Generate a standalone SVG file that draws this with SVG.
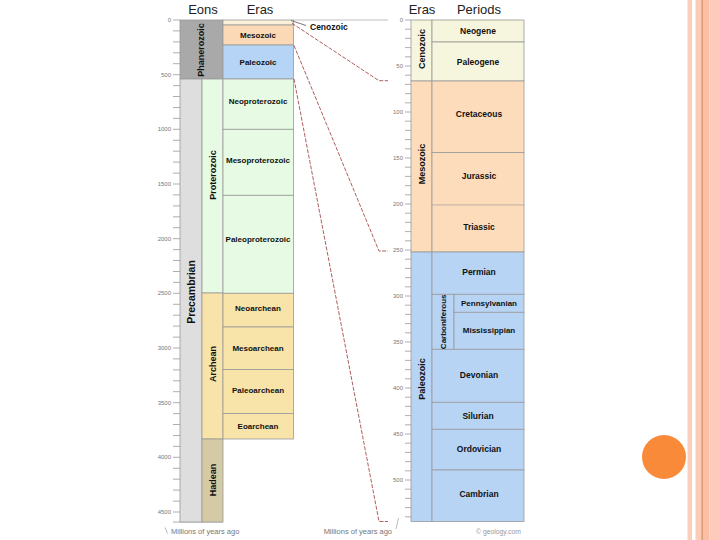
<svg xmlns="http://www.w3.org/2000/svg" width="720" height="540" viewBox="0 0 720 540">
<style>
text{font-family:"Liberation Sans",Arial,sans-serif;}
.hd{font-size:13px;fill:#222;text-anchor:middle;}
.lb{font-size:8px;font-weight:bold;fill:#111;text-anchor:middle;}
.lr{font-size:8.5px;font-weight:bold;fill:#111;text-anchor:middle;}
.vl{font-size:9px;font-weight:bold;fill:#111;text-anchor:middle;dominant-baseline:central;}
.ax{font-size:6px;fill:#777;text-anchor:end;dominant-baseline:central;}
.ft{font-size:7.5px;fill:#777;}
.bx{stroke:#9a9a9a;stroke-width:0.8;}
.tk{stroke:#9a9a9a;stroke-width:0.8;fill:none;}
.rd{stroke:#9b3535;stroke-width:0.8;stroke-dasharray:4 1.5;fill:none;}
</style>
<rect x="0" y="0" width="720" height="540" fill="#ffffff"/>
<g id="decoration">
<rect x="687.5" y="0" width="4.5" height="540" fill="#f9cfbc"/>
<rect x="695.5" y="0" width="6.5" height="540" fill="#fbcdb8"/>
<rect x="703" y="0" width="6.5" height="540" fill="#fcbea4"/>
<rect x="709.5" y="0" width="10.5" height="540" fill="#fdcabb"/>
<rect x="701.6" y="0" width="1.2" height="540" fill="#d48658"/>
<circle cx="664" cy="457" r="22" fill="#f98a3a"/>
</g>
<g id="headers">
<text class="hd" x="203" y="14">Eons</text>
<text class="hd" x="260" y="14">Eras</text>
<text class="hd" x="422" y="14">Eras</text>
<text class="hd" x="479" y="14">Periods</text>
</g>
<g id="left-axis">
<path class="tk" d="M173 20H180M173 30.9H180M173 41.9H180M173 52.8H180M173 63.7H180M173 74.7H180M173 85.6H180M173 96.5H180M173 107.5H180M173 118.4H180M173 129.3H180M173 140.3H180M173 151.2H180M173 162.1H180M173 173.1H180M173 184H180M173 194.9H180M173 205.9H180M173 216.8H180M173 227.7H180M173 238.7H180M173 249.6H180M173 260.5H180M173 271.5H180M173 282.4H180M173 293.3H180M173 304.3H180M173 315.2H180M173 326.1H180M173 337.1H180M173 348H180M173 358.9H180M173 369.9H180M173 380.8H180M173 391.7H180M173 402.7H180M173 413.6H180M173 424.5H180M173 435.5H180M173 446.4H180M173 457.3H180M173 468.3H180M173 479.2H180M173 490.1H180M173 501.1H180M173 512H180M173 522H223"/>
<text class="ax" x="171" y="20">0</text>
<text class="ax" x="171" y="74.7">500</text>
<text class="ax" x="171" y="129.3">1000</text>
<text class="ax" x="171" y="184">1500</text>
<text class="ax" x="171" y="238.7">2000</text>
<text class="ax" x="171" y="293.3">2500</text>
<text class="ax" x="171" y="348">3000</text>
<text class="ax" x="171" y="402.7">3500</text>
<text class="ax" x="171" y="457.3">4000</text>
<text class="ax" x="171" y="512">4500</text>
<path d="M165 527.5L167.5 533.5" stroke="#aaa" stroke-width="0.8"/>
<text class="ft" x="171" y="533.5">Millions of years ago</text>
</g>
<g id="eon-phanerozoic"><rect class="bx" x="180" y="20" width="43" height="59" fill="#a9a9a9"/><text class="vl" transform="translate(201,50) rotate(-90)">Phanerozoic</text></g>
<g id="eon-precambrian"><rect class="bx" x="180" y="79" width="22" height="443" fill="#dedede"/><text class="vl" style="font-size:10.5px" transform="translate(191,292) rotate(-90)">Precambrian</text></g>
<g id="eon-proterozoic"><rect class="bx" x="202" y="79" width="21" height="214" fill="#e7fbe4"/><text class="vl" transform="translate(213,175) rotate(-90)">Proterozoic</text></g>
<g id="eon-archean"><rect class="bx" x="202" y="293" width="21" height="146" fill="#f8e3a8"/><text class="vl" transform="translate(213,364) rotate(-90)">Archean</text></g>
<g id="eon-hadean"><rect class="bx" x="202" y="439" width="21" height="83" fill="#d4cba6"/><text class="vl" transform="translate(213,480) rotate(-90)">Hadean</text></g>
<g id="era-cenozoic-l"><rect class="bx" x="223" y="20" width="70.5" height="5" fill="#fbf1d8"/></g>
<g id="era-mesozoic-l"><rect class="bx" x="223" y="25" width="70.5" height="20" fill="#fcd9b6"/><text class="lb" x="258" y="38">Mesozoic</text></g>
<g id="era-paleozoic-l"><rect class="bx" x="223" y="45" width="70.5" height="34" fill="#b6d4f6"/><text class="lb" x="258" y="65">Paleozoic</text></g>
<g id="era-neoproterozoic"><rect class="bx" x="223" y="79" width="70.5" height="50.3" fill="#e7fbe4"/><text class="lb" x="258" y="104">Neoproterozoic</text></g>
<g id="era-mesoproterozoic"><rect class="bx" x="223" y="129.3" width="70.5" height="66" fill="#e7fbe4"/><text class="lb" x="258" y="163">Mesoproterozoic</text></g>
<g id="era-paleoproterozoic"><rect class="bx" x="223" y="195.3" width="70.5" height="98" fill="#e7fbe4"/><text class="lb" x="258" y="242">Paleoproterozoic</text></g>
<g id="era-neoarchean"><rect class="bx" x="223" y="293.3" width="70.5" height="33.7" fill="#f8e3a8"/><text class="lb" x="258" y="311">Neoarchean</text></g>
<g id="era-mesoarchean"><rect class="bx" x="223" y="327" width="70.5" height="42.5" fill="#f8e3a8"/><text class="lb" x="258" y="351">Mesoarchean</text></g>
<g id="era-paleoarchean"><rect class="bx" x="223" y="369.5" width="70.5" height="44" fill="#f8e3a8"/><text class="lb" x="258" y="393">Paleoarchean</text></g>
<g id="era-eoarchean"><rect class="bx" x="223" y="413.5" width="70.5" height="25.5" fill="#f8e3a8"/><text class="lb" x="258" y="429">Eoarchean</text></g>
<g id="cenozoic-label">
<path d="M291 20.5L306 25.5" stroke="#555" stroke-width="0.8" fill="none"/>
<text class="lr" x="310" y="29.5" style="text-anchor:start">Cenozoic</text>
</g>
<g id="connectors">
<path d="M293.5 20H388" stroke="#b0b0b0" stroke-width="0.8" fill="none"/>
<polyline class="rd" points="292,23.3 379,80.7 388,80.7"/>
<polyline class="rd" points="294,45.5 379,251 388,251"/>
<polyline class="rd" points="294,79 379,521.5 388,521.5"/>
</g>
<g id="right-axis">
<path class="tk" d="M405 20H411M405 29.2H411M405 38.4H411M405 47.6H411M405 56.8H411M405 66H411M405 75.2H411M405 84.4H411M405 93.6H411M405 102.8H411M405 112H411M405 121.2H411M405 130.4H411M405 139.6H411M405 148.8H411M405 158H411M405 167.2H411M405 176.4H411M405 185.6H411M405 194.8H411M405 204H411M405 213.2H411M405 222.4H411M405 231.6H411M405 240.8H411M405 250H411M405 259.2H411M405 268.4H411M405 277.6H411M405 286.8H411M405 296H411M405 305.2H411M405 314.4H411M405 323.6H411M405 332.8H411M405 342H411M405 351.2H411M405 360.4H411M405 369.6H411M405 378.8H411M405 388H411M405 397.2H411M405 406.4H411M405 415.6H411M405 424.8H411M405 434H411M405 443.2H411M405 452.4H411M405 461.6H411M405 470.8H411M405 480H411M405 489.2H411M405 498.4H411M405 507.6H411M405 516.8H411"/>
<text class="ax" x="403" y="20">0</text>
<text class="ax" x="403" y="66">50</text>
<text class="ax" x="403" y="112">100</text>
<text class="ax" x="403" y="158">150</text>
<text class="ax" x="403" y="204">200</text>
<text class="ax" x="403" y="250">250</text>
<text class="ax" x="403" y="296">300</text>
<text class="ax" x="403" y="342">350</text>
<text class="ax" x="403" y="388">400</text>
<text class="ax" x="403" y="434">450</text>
<text class="ax" x="403" y="480">500</text>
<path d="M398.5 518L396 529" stroke="#aaa" stroke-width="0.8"/>
<text class="ft" x="392" y="533.5" style="text-anchor:end">Millions of years ago</text>
<text x="476" y="534" style="font-size:6.8px;fill:#999">© geology.com</text>
</g>
<g id="era-cenozoic-r"><rect class="bx" x="411" y="20" width="21" height="61" fill="#f6f5dd"/><text class="vl" transform="translate(422,49) rotate(-90)">Cenozoic</text></g>
<g id="era-mesozoic-r"><rect class="bx" x="411" y="81" width="21" height="171" fill="#fddcbc"/><text class="vl" transform="translate(422,164) rotate(-90)">Mesozoic</text></g>
<g id="era-paleozoic-r"><rect class="bx" x="411" y="252" width="21" height="269.5" fill="#b7d4f5"/><text class="vl" transform="translate(422,379) rotate(-90)">Paleozoic</text></g>
<g id="per-neogene"><rect class="bx" x="432" y="20" width="92" height="22" fill="#f6f5dd"/><text class="lr" x="478" y="34">Neogene</text></g>
<g id="per-paleogene"><rect class="bx" x="432" y="42" width="92" height="39" fill="#f6f5dd"/><text class="lr" x="478" y="65">Paleogene</text></g>
<g id="per-cretaceous"><rect class="bx" x="432" y="81" width="92" height="71.5" fill="#fddcbc"/><text class="lr" x="479" y="117">Cretaceous</text></g>
<g id="per-jurassic"><rect x="432" y="152.5" width="92" height="52.5" fill="#fddcbc" stroke="#9a9a9a" stroke-width="0.8"/><text class="lr" x="479" y="179">Jurassic</text></g>
<g id="per-triassic"><rect x="432" y="205" width="92" height="47" fill="#fddcbc" stroke="#9a9a9a" stroke-width="0.8"/><path d="M432.5 205H523.5" stroke="#f2d2b2" stroke-width="1"/><text class="lr" x="479" y="230">Triassic</text></g>
<g id="per-permian"><rect class="bx" x="432" y="252" width="92" height="42.3" fill="#b7d4f5"/><text class="lr" x="479" y="275">Permian</text></g>
<g id="per-carboniferous"><rect class="bx" x="432" y="294.3" width="22" height="55" fill="#b7d4f5"/><text class="vl" style="font-size:8px" transform="translate(443,321.8) rotate(-90)">Carboniferous</text></g>
<g id="per-pennsylvanian"><rect class="bx" x="454" y="294.3" width="70" height="18" fill="#b7d4f5"/><text class="lb" x="489" y="305.5">Pennsylvanian</text></g>
<g id="per-mississippian"><rect class="bx" x="454" y="312.3" width="70" height="37" fill="#b7d4f5"/><text class="lb" x="489" y="333">Mississippian</text></g>
<g id="per-devonian"><rect class="bx" x="432" y="349.3" width="92" height="53" fill="#b7d4f5"/><text class="lr" x="479" y="378">Devonian</text></g>
<g id="per-silurian"><rect class="bx" x="432" y="402.3" width="92" height="27" fill="#b7d4f5"/><text class="lr" x="478" y="419">Silurian</text></g>
<g id="per-ordovician"><rect class="bx" x="432" y="429.3" width="92" height="40.7" fill="#b7d4f5"/><text class="lr" x="479" y="452">Ordovician</text></g>
<g id="per-cambrian"><rect class="bx" x="432" y="470" width="92" height="51.5" fill="#b7d4f5"/><text class="lr" x="479" y="497">Cambrian</text></g>
</svg>
